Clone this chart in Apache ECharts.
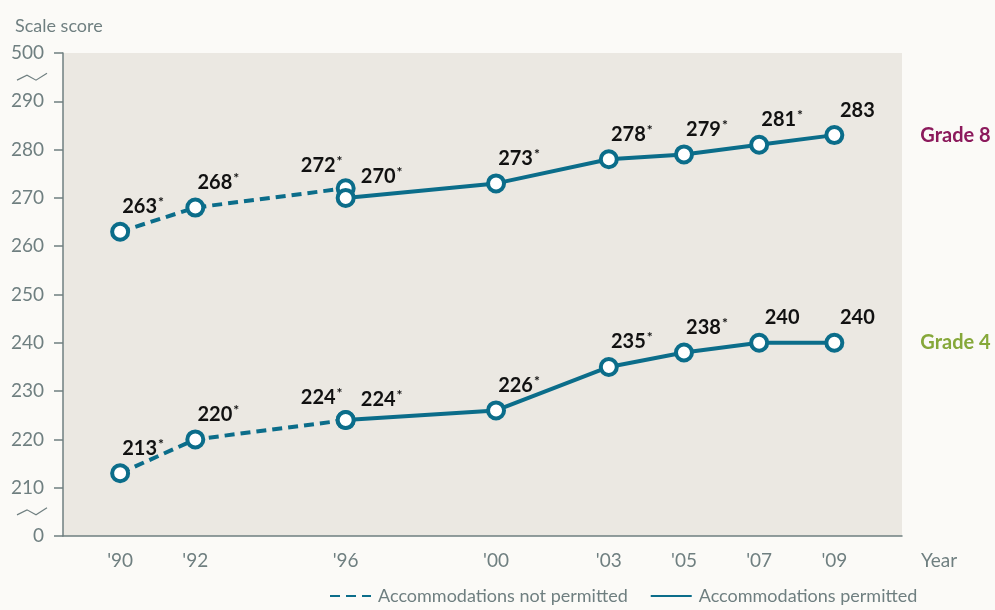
<!DOCTYPE html>
<html>
<head>
<meta charset="utf-8">
<script src="https://cdn.jsdelivr.net/npm/echarts@6/dist/echarts.min.js"></script>
<style>
  html, body { margin: 0; padding: 0; background: #fbfaf7; }
  #chart { width: 995px; height: 610px; }
</style>
</head>
<body>
<div id="chart"></div>
<script>
// years on the x axis
const years = [1990, 1992, 1996, 2000, 2003, 2005, 2007, 2009]

// grade 8: before / after accommodations permitted
const g8NotPermittedYears = [1990, 1992, 1996]
const g8NotPermitted = [263, 268, 272]
const g8PermittedYears = [1996, 2000, 2003, 2005, 2007, 2009]
const g8Permitted = [270, 273, 278, 279, 281, 283]

// grade 4
const g4NotPermittedYears = [1990, 1992, 1996]
const g4NotPermitted = [213, 220, 224]
const g4PermittedYears = [1996, 2000, 2003, 2005, 2007, 2009]
const g4Permitted = [224, 226, 235, 238, 240, 240]

// significantly different from 2009 (asterisk)
const g8NotPermittedSig = [true, true, true]
const g8PermittedSig = [true, true, true, true, true, false]
const g4NotPermittedSig = [true, true, true]
const g4PermittedSig = [true, true, true, true, false, false]

// y axis ticks; the ends stand for 0 and 500 (broken axis)
const yTicks = [200, 210, 220, 230, 240, 250, 260, 270, 280, 290, 300]
const yTickLabels = ['0', '210', '220', '230', '240', '250', '260', '270', '280', '290', '500']

const TEAL = '#0b6d8a'
const GREY = '#6f7f80'
const FONT = "Lato, 'Open Sans', sans-serif"

const chart = echarts.init(document.getElementById('chart'))

// build points; the first label of a permitted series at '96 is pushed right,
// the last label of a not-permitted series is pushed left
const buildData = (xs, ys, sig, kind) => xs.map((x, i) => {
  const item = { value: [x, ys[i]], sig: sig[i] }
  if (kind === 'dashed' && i === xs.length - 1) {
    item.label = { offset: [-24, 2] }
  }
  if (kind === 'solid' && i === 0) {
    item.label = { offset: [36, 4] }
  }
  return item
})

const labelCfg = {
  show: true,
  position: 'top',
  distance: 4,
  offset: [23, 0],
  formatter: (p) => p.data.sig ? `{n|${p.data.value[1]}}{s|*}` : `{n|${p.data.value[1]}}`,
  rich: {
    n: { fontFamily: FONT, fontWeight: 'bold', fontSize: 20, color: '#111', lineHeight: 22 },
    s: { fontFamily: FONT, fontWeight: 'bold', fontSize: 14, color: '#111', verticalAlign: 'top', lineHeight: 22, padding: [0, 0, 8, 1] }
  }
}

const makeSeries = (name, xs, ys, sig, dashed, endLabel) => ({
  name,
  type: 'line',
  data: buildData(xs, ys, sig, dashed ? 'dashed' : 'solid'),
  symbol: 'circle',
  symbolSize: 16,
  z: dashed ? 3 : 4,
  itemStyle: { color: '#fff', borderColor: TEAL, borderWidth: 4 },
  lineStyle: { color: TEAL, width: 4, type: dashed ? [10, 6] : 'solid' },
  label: labelCfg,
  endLabel: endLabel || { show: false },
  emphasis: { disabled: true }
})

const option = {
  backgroundColor: '#fbfaf7',
  animation: false,
  title: {
    text: 'Scale score',
    left: 10,
    top: 12,
    textStyle: { fontFamily: FONT, fontWeight: 'normal', fontSize: 18, color: GREY }
  },
  grid: {
    left: 63,
    right: 93,
    top: 53,
    bottom: 74,
    show: true,
    backgroundColor: '#ebe8e2',
    borderWidth: 0
  },
  legend: {
    left: 324,
    bottom: 0,
    itemWidth: 41,
    itemHeight: 14,
    itemGap: 22,
    selectedMode: false,
    itemStyle: { opacity: 0 },
    textStyle: { fontFamily: FONT, fontSize: 18, color: GREY, padding: [0, 0, 0, 2] },
    data: ['Accommodations not permitted', 'Accommodations permitted']
  },
  xAxis: {
    type: 'value',
    min: 1988.48,
    max: 2010.8,
    name: 'Year',
    nameLocation: 'end',
    nameGap: 19,
    nameTextStyle: { fontFamily: FONT, fontSize: 19, color: GREY, verticalAlign: 'top', padding: [15, 0, 0, 0] },
    splitLine: { show: false },
    axisLine: { show: true, lineStyle: { color: GREY, width: 1.5 } },
    axisTick: { show: false },
    axisLabel: {
      customValues: years,
      margin: 15,
      fontFamily: FONT,
      fontSize: 19,
      color: GREY,
      formatter: (v) => "'" + String(v).slice(2)
    }
  },
  yAxis: {
    type: 'value',
    min: 200,
    max: 300,
    interval: 10,
    splitLine: { show: false },
    axisLine: { show: true, lineStyle: { color: GREY, width: 1.5 } },
    axisTick: { show: true, length: 9, lineStyle: { color: GREY, width: 1.5 } },
    axisLabel: {
      margin: 19,
      fontFamily: FONT,
      fontSize: 19,
      color: GREY,
      formatter: (v) => yTickLabels[yTicks.indexOf(v)]
    }
  },
  series: [
    makeSeries('Accommodations not permitted', g8NotPermittedYears, g8NotPermitted, g8NotPermittedSig, true),
    makeSeries('Accommodations permitted', g8PermittedYears, g8Permitted, g8PermittedSig, false, {
      show: true, formatter: 'Grade 8', distance: 86, color: '#8c1a5c',
      fontFamily: FONT, fontWeight: 'bold', fontSize: 20
    }),
    makeSeries('Accommodations not permitted', g4NotPermittedYears, g4NotPermitted, g4NotPermittedSig, true),
    makeSeries('Accommodations permitted', g4PermittedYears, g4Permitted, g4PermittedSig, false, {
      show: true, formatter: 'Grade 4', distance: 86, color: '#86a83a',
      fontFamily: FONT, fontWeight: 'bold', fontSize: 20
    })
  ]
}

chart.setOption(option)

// axis break marks (zigzags) next to the y labels
const breakMark = (val) => {
  const y = chart.convertToPixel({ yAxisIndex: 0 }, val)
  return {
    type: 'polyline',
    shape: { points: [[17, y + 3], [27, y - 2], [36, y + 3], [47, y - 4]] },
    style: { stroke: GREY, lineWidth: 1.2, fill: null }
  }
}
chart.setOption({ graphic: [breakMark(295), breakMark(205)] })
</script>
</body>
</html>
